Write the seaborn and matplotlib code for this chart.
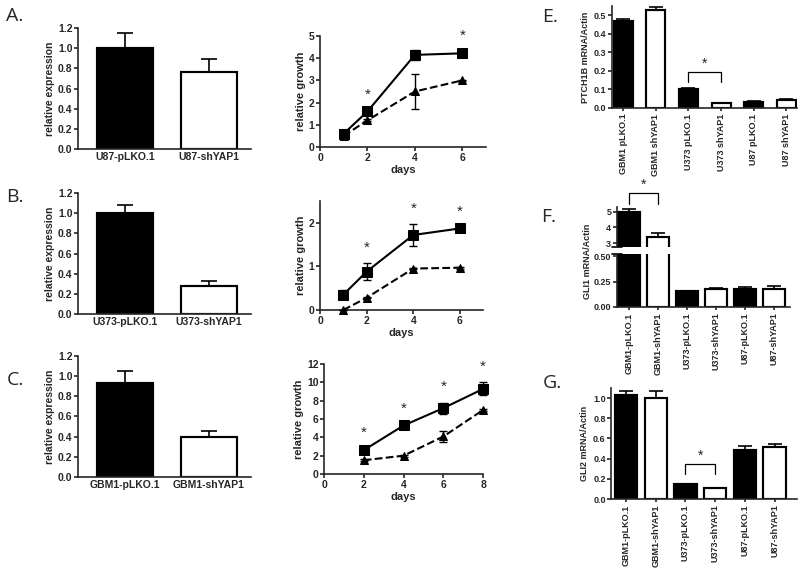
import matplotlib
matplotlib.use('Agg')
import matplotlib.pyplot as plt
import seaborn as sns

sns.set_style("ticks")
plt.rcParams['font.family'] = ['Liberation Sans', 'DejaVu Sans']
plt.rcParams['font.weight'] = 'bold'

# ---- data ----
a_groups = ["U87-pLKO.1", "U87-shYAP1"]
a_expr = [1.00, 0.76]
a_err = [0.15, 0.13]
b_groups = ["U373-pLKO.1", "U373-shYAP1"]
b_expr = [1.00, 0.28]
b_err = [0.08, 0.05]
c_groups = ["GBM1-pLKO.1", "GBM1-shYAP1"]
c_expr = [0.93, 0.40]
c_err = [0.12, 0.06]

a_days = [1, 2, 4, 6]
a_ctrl = [0.60, 1.60, 4.15, 4.22]
a_ctrl_err = [0.12, 0.08, 0.22, 0.12]
a_sh = [0.50, 1.20, 2.50, 3.00]
a_sh_err = [0.06, 0.05, 0.78, 0.04]
a_star_days = [2, 6]

b_days = [1, 2, 4, 6]
b_ctrl = [0.35, 0.88, 1.72, 1.87]
b_ctrl_err = [0.10, 0.19, 0.26, 0.03]
b_sh = [0.00, 0.28, 0.95, 0.97]
b_sh_err = [0.01, 0.01, 0.02, 0.02]
b_star_days = [2, 4, 6]

c_days = [2, 4, 6, 8]
c_ctrl = [2.60, 5.30, 7.20, 9.30]
c_ctrl_err = [0.20, 0.20, 0.60, 0.70]
c_sh = [1.50, 2.00, 4.10, 7.00]
c_sh_err = [0.10, 0.10, 0.60, 0.10]
c_star_days = [2, 4, 6, 8]

e_groups = ["GBM1 pLKO.1", "GBM1 shYAP1", "U373 pLKO.1", "U373 shYAP1", "U87 pLKO.1", "U87 shYAP1"]
e_vals = [0.47, 0.53, 0.100, 0.025, 0.035, 0.042]
e_err = [0.012, 0.015, 0.006, 0.002, 0.003, 0.004]

f_groups = ["GBM1-pLKO.1", "GBM1-shYAP1", "U373-pLKO.1", "U373-shYAP1", "U87-pLKO.1", "U87-shYAP1"]
f_vals = [5.0, 3.4, 0.155, 0.18, 0.175, 0.18]
f_err = [0.15, 0.25, 0.003, 0.01, 0.02, 0.03]

g_groups = ["GBM1-pLKO.1", "GBM1-shYAP1", "U373-pLKO.1", "U373-shYAP1", "U87-pLKO.1", "U87-shYAP1"]
g_vals = [1.03, 1.00, 0.15, 0.105, 0.49, 0.515]
g_err = [0.04, 0.07, 0.003, 0.003, 0.035, 0.03]

bw = 1.2  # spine/edge width
small = 6.5  # tick font of the mRNA panels


def style_ax(ax, fs):
    sns.despine(ax=ax)
    for s in ['left', 'bottom']:
        ax.spines[s].set_linewidth(bw)
    ax.tick_params(width=bw, length=3, labelsize=fs, pad=1)
    for lab in ax.get_xticklabels() + ax.get_yticklabels():
        lab.set_fontweight('bold')


def bar_panel(ax, groups, vals, errs, width, fs, rot=0):
    pal = ['black', 'white'] * (len(groups) // 2)
    sns.barplot(x=groups, y=vals, hue=groups, palette=pal, legend=False,
                edgecolor='black', linewidth=bw * 1.3, width=width, ax=ax,
                saturation=1)
    ax.errorbar(range(len(vals)), vals, yerr=[[0] * len(vals), errs], fmt='none',
                ecolor='black', elinewidth=bw, capsize=fs * 0.8, capthick=bw, zorder=3)
    ax.set_xlabel("")
    if rot:
        ax.set_xticks(range(len(groups)))
        ax.set_xticklabels(groups, rotation=90)


def line_panel(ax, days, ctrl, ctrl_err, sh, sh_err, star_days):
    sns.lineplot(x=days, y=ctrl, ax=ax, color='black', marker='s', markersize=6.5,
                 linewidth=1.5, markeredgecolor='black', clip_on=False, zorder=4)
    sns.lineplot(x=days, y=sh, ax=ax, color='black', marker='^', markersize=5.5,
                 linewidth=1.5, linestyle='--', markeredgecolor='black',
                 clip_on=False, zorder=4)
    ax.errorbar(days, ctrl, yerr=ctrl_err, fmt='none', ecolor='black', elinewidth=1,
                capsize=3, capthick=1, clip_on=False, zorder=5)
    ax.errorbar(days, sh, yerr=sh_err, fmt='none', ecolor='black', elinewidth=1,
                capsize=3, capthick=1, clip_on=False, zorder=5)
    for d in star_days:
        i = days.index(d)
        top = max(ctrl[i] + ctrl_err[i], sh[i] + sh_err[i])
        ax.annotate('*', (d, top), xytext=(0, 6), textcoords='offset points',
                    ha='center', va='bottom', fontsize=11, fontweight='normal',
                    annotation_clip=False)
    ax.set_xlabel("days", fontsize=8, fontweight='bold', labelpad=2)
    ax.set_ylabel("relative growth", fontsize=8, fontweight='bold', labelpad=2)


def bracket(ax, x0, x1, ytop, yleg):
    ax.plot([x0, x0, x1, x1], [yleg, ytop, ytop, yleg], color='black', lw=0.9,
            clip_on=False)
    ax.annotate('*', ((x0 + x1) / 2, ytop), xytext=(0, 1), textcoords='offset points',
                ha='center', va='bottom', fontsize=10, fontweight='normal',
                annotation_clip=False)


fig = plt.figure(figsize=(8, 5.69), dpi=100)

# ---- A/B/C expression bars ----
bar_rows = [(0.738, a_groups, a_expr, a_err), (0.448, b_groups, b_expr, b_err),
            (0.1617, c_groups, c_expr, c_err)]
for bottom, groups, vals, errs in bar_rows:
    ax = fig.add_axes([0.0975, bottom, 0.216, 0.2127])
    bar_panel(ax, groups, vals, errs, 0.67, 7.5)
    ax.set_ylim(0, 1.2)
    ax.set_yticks([0, 0.2, 0.4, 0.6, 0.8, 1.0, 1.2])
    ax.set_yticklabels(["0.0", "0.2", "0.4", "0.6", "0.8", "1.0", "1.2"])
    ax.set_xlim(-0.56, 1.5)
    ax.set_ylabel("relative expression", fontsize=7.5, fontweight='bold', labelpad=2)
    style_ax(ax, 7.5)
    ax.tick_params(axis='x', length=0, pad=2)

# ---- growth curves ----
ax = fig.add_axes([0.40, 0.7417, 0.2075, 0.195])
line_panel(ax, a_days, a_ctrl, a_ctrl_err, a_sh, a_sh_err, a_star_days)
ax.set_xlim(0, 7)
ax.set_ylim(0, 5)
ax.set_xticks([0, 2, 4, 6])
ax.set_yticks([0, 1, 2, 3, 4, 5])
style_ax(ax, 7.5)

ax = fig.add_axes([0.40, 0.4552, 0.204, 0.1916])
line_panel(ax, b_days, b_ctrl, b_ctrl_err, b_sh, b_sh_err, b_star_days)
ax.set_xlim(0, 7)
ax.set_ylim(0, 2.5)
ax.set_xticks([0, 2, 4, 6])
ax.set_yticks([0, 1, 2])
style_ax(ax, 7.5)

ax = fig.add_axes([0.405, 0.167, 0.199, 0.193])
line_panel(ax, c_days, c_ctrl, c_ctrl_err, c_sh, c_sh_err, c_star_days)
ax.set_xlim(0, 8)
ax.set_ylim(0, 12)
ax.set_xticks([0, 2, 4, 6, 8])
ax.set_yticks([0, 2, 4, 6, 8, 10, 12])
style_ax(ax, 7.5)

# ---- E ----
ax = fig.add_axes([0.765, 0.8102, 0.231, 0.179])
bar_panel(ax, e_groups, e_vals, e_err, 0.58, small, rot=90)
ax.set_ylim(0, 0.55)
ax.set_yticks([0, 0.1, 0.2, 0.3, 0.4, 0.5])
ax.set_yticklabels(["0.0", "0.1", "0.2", "0.3", "0.4", "0.5"])
ax.set_xlim(-0.34, 5.32)
ax.set_ylabel("PTCH1B mRNA/Actin", fontsize=small, fontweight='bold', labelpad=3)
style_ax(ax, small)
ax.tick_params(axis='x', length=2, pad=2)
bracket(ax, 2, 3, 0.195, 0.14)

# ---- F (broken axis) ----
ax_lo = fig.add_axes([0.771, 0.4605, 0.216, 0.0931])
ax_hi = fig.add_axes([0.771, 0.5659, 0.216, 0.0703])
for axx in (ax_lo, ax_hi):
    bar_panel(axx, f_groups, f_vals, f_err, 0.75, small, rot=90)
    axx.set_xlim(-0.43, 5.53)
ax_lo.set_ylim(0, 0.52)
ax_lo.set_yticks([0, 0.25, 0.5])
ax_lo.set_yticklabels(["0.00", "0.25", "0.50"])
ax_hi.set_ylim(2.75, 5.3)
ax_hi.set_yticks([3, 4, 5])
style_ax(ax_lo, small)
style_ax(ax_hi, small)
ax_lo.tick_params(axis='x', length=2, pad=2)
ax_hi.spines['bottom'].set_visible(False)
ax_hi.set_xticks([])
# break marks on the y axis
for axx, yy in ((ax_hi, 0.0), (ax_lo, 1.0)):
    axx.plot([-0.03, 0.03], [yy, yy], transform=axx.transAxes, color='black',
             lw=bw, clip_on=False)
bracket(ax_hi, 0, 1, 6.2, 5.5)
fig.text(0.734, 0.54, "GLI1 mRNA/Actin", rotation=90, fontsize=small, fontweight='bold',
         ha='center', va='center')

# ---- G ----
ax = fig.add_axes([0.764, 0.123, 0.232, 0.195])
bar_panel(ax, g_groups, g_vals, g_err, 0.75, small, rot=90)
ax.set_ylim(0, 1.1)
ax.set_yticks([0, 0.2, 0.4, 0.6, 0.8, 1.0])
ax.set_yticklabels(["0.0", "0.2", "0.4", "0.6", "0.8", "1.0"])
ax.set_xlim(-0.5, 5.75)
ax.set_ylabel("GLI2 mRNA/Actin", fontsize=small, fontweight='bold', labelpad=3)
style_ax(ax, small)
ax.tick_params(axis='x', length=2, pad=2)
bracket(ax, 2, 3, 0.35, 0.25)

# ---- panel letters ----
letters = [("A.", 0.008, 0.972), ("B.", 0.008, 0.654), ("C.", 0.008, 0.332),
           ("E.", 0.678, 0.97), ("F.", 0.677, 0.618), ("G.", 0.678, 0.327)]
for t, x, y in letters:
    fig.text(x, y, t, fontsize=14, fontweight='normal', family='Open Sans',
             ha='left', va='center')

fig.savefig("out.png", dpi=100, facecolor='white')
